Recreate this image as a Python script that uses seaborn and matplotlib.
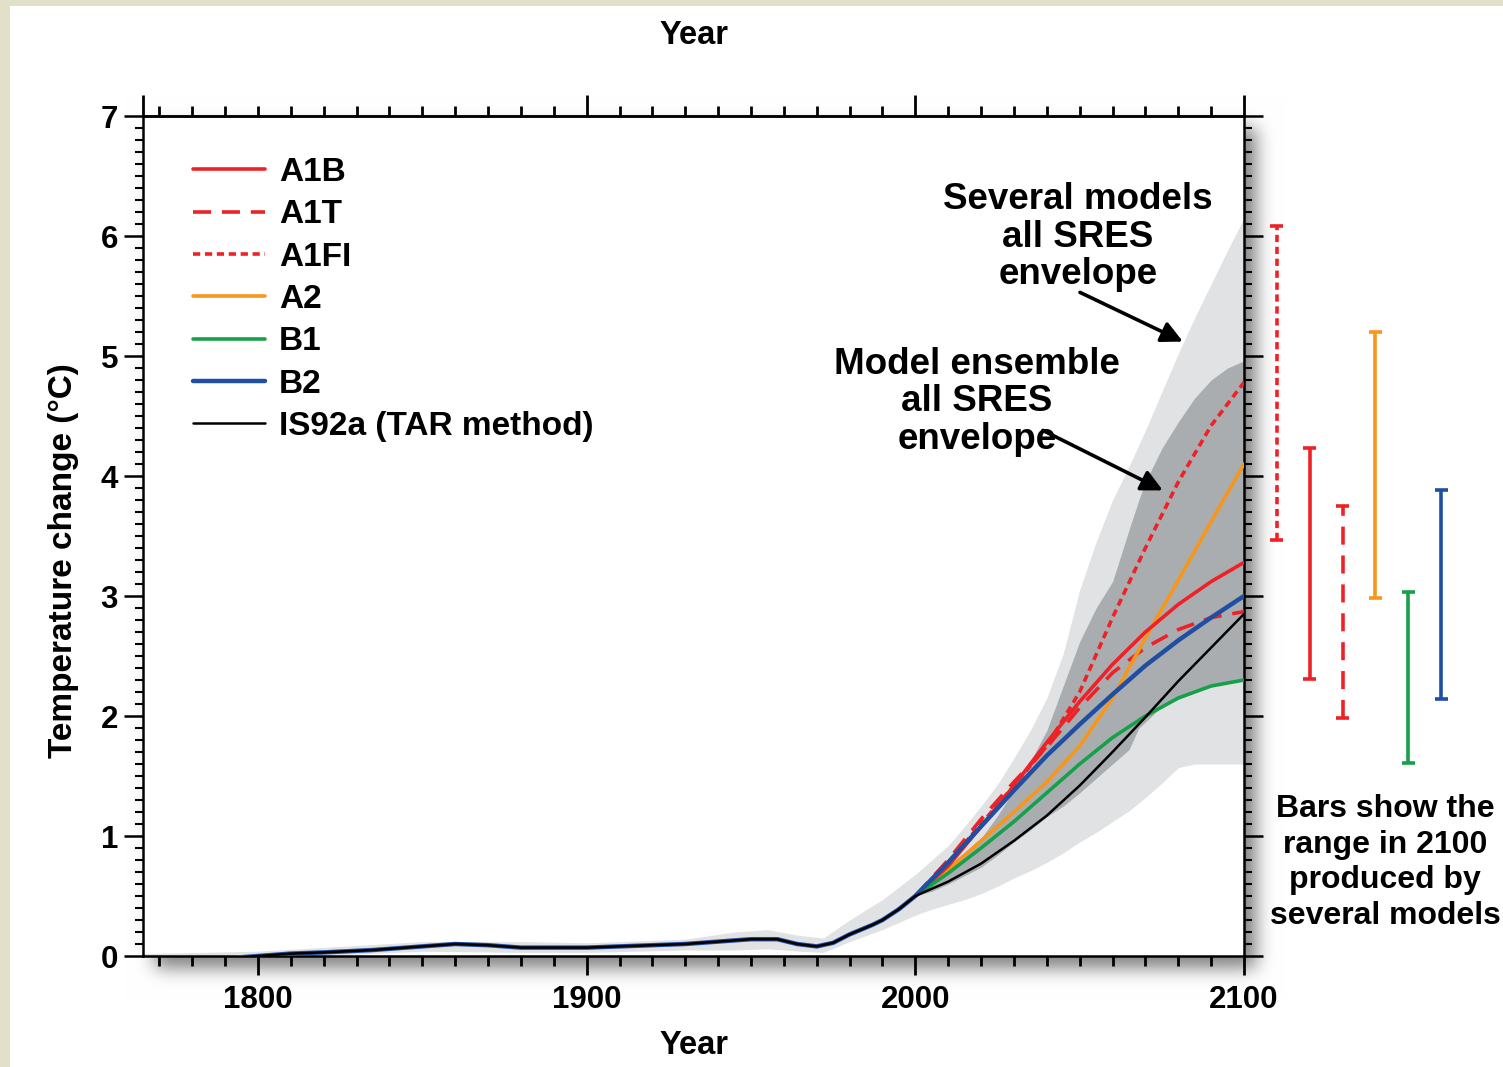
import numpy as np
import pandas as pd
import matplotlib
matplotlib.use("Agg")
import matplotlib.pyplot as plt
import seaborn as sns
from matplotlib.ticker import MultipleLocator, FixedLocator, NullFormatter

# ---- data ----
hist_years = [1765, 1790, 1800, 1810, 1820, 1835, 1850, 1860, 1870, 1880, 1890, 1900,
              1910, 1920, 1930, 1940, 1950, 1958, 1964, 1970, 1975, 1980, 1987, 1990,
              1995, 2000]
hist_temp = [-0.02, -0.02, 0.0, 0.02, 0.03, 0.05, 0.08, 0.10, 0.09, 0.07, 0.07, 0.07,
             0.08, 0.09, 0.10, 0.12, 0.14, 0.14, 0.10, 0.08, 0.11, 0.18, 0.26, 0.30,
             0.39, 0.50]

proj_years = [2000, 2010, 2020, 2030, 2040, 2050, 2060, 2070, 2080, 2090, 2100]
a1b = [0.5, 0.75, 1.08, 1.42, 1.78, 2.12, 2.43, 2.70, 2.93, 3.12, 3.28]
a1t = [0.5, 0.80, 1.14, 1.45, 1.74, 2.07, 2.36, 2.57, 2.72, 2.82, 2.87]
a1fi = [0.5, 0.78, 1.10, 1.42, 1.75, 2.20, 2.82, 3.40, 3.95, 4.42, 4.78]
a2 = [0.5, 0.72, 0.96, 1.20, 1.45, 1.75, 2.15, 2.65, 3.13, 3.62, 4.10]
b1 = [0.5, 0.69, 0.90, 1.12, 1.36, 1.60, 1.82, 2.00, 2.15, 2.25, 2.30]
b2 = [0.5, 0.78, 1.08, 1.38, 1.67, 1.93, 2.18, 2.42, 2.63, 2.82, 3.00]
is92a = [0.5, 0.62, 0.77, 0.96, 1.17, 1.42, 1.70, 1.99, 2.29, 2.57, 2.85]

# "several models" envelope (light grey)
env_years = [1765, 1800, 1850, 1880, 1900, 1930, 1945, 1955, 1965, 1972, 1980, 1990,
             2000, 2005, 2010, 2015, 2020, 2025, 2030, 2035, 2040, 2045, 2050, 2055,
             2060, 2065, 2070, 2075, 2080, 2085, 2090, 2095, 2100]
outer_high = [0.02, 0.04, 0.12, 0.12, 0.11, 0.14, 0.20, 0.22, 0.17, 0.15, 0.30, 0.47,
              0.68, 0.80, 0.92, 1.08, 1.25, 1.43, 1.65, 1.88, 2.15, 2.52, 3.05, 3.45,
              3.80, 4.08, 4.38, 4.70, 5.02, 5.32, 5.60, 5.88, 6.15]
outer_low = [-0.02, -0.02, 0.04, 0.03, 0.03, 0.05, 0.05, 0.06, 0.04, 0.03, 0.12, 0.22,
             0.34, 0.39, 0.43, 0.47, 0.52, 0.58, 0.65, 0.71, 0.78, 0.86, 0.95, 1.03,
             1.12, 1.21, 1.32, 1.44, 1.57, 1.60, 1.60, 1.60, 1.60]

# model-ensemble envelope (dark grey)
inner_years = [2000, 2005, 2010, 2015, 2020, 2025, 2030, 2035, 2040, 2045, 2050, 2055,
               2060, 2065, 2068, 2070, 2075, 2080, 2085, 2090, 2095, 2100]
inner_high = [0.50, 0.62, 0.75, 0.86, 0.98, 1.17, 1.38, 1.62, 1.88, 2.25, 2.62, 2.90,
              3.12, 3.55, 3.80, 3.95, 4.23, 4.45, 4.65, 4.80, 4.90, 4.96]
inner_low = [0.50, 0.54, 0.60, 0.67, 0.74, 0.84, 0.95, 1.05, 1.16, 1.25, 1.36, 1.48,
             1.60, 1.72, 1.90, 1.95, 2.08, 2.14, 2.20, 2.25, 2.28, 2.30]

bar_names = ["A1FI", "A1B", "A1T", "A2", "B1", "B2"]
bar_x = [2110, 2120, 2130, 2140, 2150, 2160]
bar_low = [3.47, 2.31, 1.98, 2.98, 1.61, 2.14]
bar_high = [6.08, 4.23, 3.75, 5.20, 3.03, 3.88]

RED, ORANGE, GREEN, BLUE = "#ee2226", "#f7961c", "#17a04a", "#1f4ea3"
DOT = (0, (2, 1.3))
DASH = (0, (5, 3))

sns.set_theme(style="ticks")
plt.rcParams["font.family"] = ["Liberation Sans", "DejaVu Sans"]
plt.rcParams["font.weight"] = "bold"
plt.rcParams["axes.labelweight"] = "bold"
for key in ["text.color", "axes.labelcolor", "xtick.color", "ytick.color", "axes.edgecolor"]:
    plt.rcParams[key] = "black"

W, H = 1503, 1067
fig = plt.figure(figsize=(W / 100, H / 100), dpi=100, facecolor="white")

# background: beige frame + soft drop shadow behind the plot box
x0, x1, y0, y1 = 143, 1244, 116, 956
mask = np.zeros((H, W))
off = 12
mask[y0 + off:y1 + off, x0 + off:x1 + off] = 1.0
k = np.exp(-0.5 * (np.arange(-30, 31) / 9.0) ** 2)
k /= k.sum()
mask = np.apply_along_axis(lambda r: np.convolve(r, k, mode="same"), 1, mask)
mask = np.apply_along_axis(lambda c: np.convolve(c, k, mode="same"), 0, mask)
bg = np.ones((H, W, 3)) * (1 - 0.5 * mask)[..., None]
beige = np.array([226, 224, 200]) / 255
bg[:6, :] = beige
bg[:, :10] = beige
fig.figimage(bg, xo=0, yo=0, origin="upper", zorder=-10)

ax = fig.add_axes([x0 / W, 1 - y1 / H, (x1 - x0) / W, (y1 - y0) / H])
ax.set_facecolor("white")

ax.fill_between(env_years, outer_low, outer_high, color="#e0e2e3", lw=0, zorder=1)
ax.fill_between(inner_years, inner_low, inner_high, color="#a9adb0", lw=0, zorder=2)

full_years = hist_years[:-1] + proj_years
lw = 2.6
sns.lineplot(x=proj_years, y=a1t, ax=ax, color=RED, linestyle=DASH, lw=lw, label="A1T", zorder=3)
sns.lineplot(x=proj_years, y=a1fi, ax=ax, color=RED, linestyle=DOT, lw=lw, label="A1FI", zorder=3)
sns.lineplot(x=proj_years, y=a2, ax=ax, color=ORANGE, lw=lw, label="A2", zorder=3)
sns.lineplot(x=proj_years, y=a1b, ax=ax, color=RED, lw=lw, label="A1B", zorder=3)
sns.lineplot(x=proj_years, y=b1, ax=ax, color=GREEN, lw=lw, label="B1", zorder=3)
sns.lineplot(x=full_years, y=hist_temp[:-1] + b2, ax=ax, color=BLUE, lw=lw + 0.6, label="B2", zorder=4)
sns.lineplot(x=full_years, y=hist_temp[:-1] + is92a, ax=ax, color="black", lw=1.8,
             label="IS92a (TAR method)", zorder=5)

# range bars in 2100
bar_colors = [RED, RED, RED, ORANGE, GREEN, BLUE]
bar_styles = [DOT, "-", DASH, "-", "-", "-"]
for bx, lo, hi, c, s in zip(bar_x, bar_low, bar_high, bar_colors, bar_styles):
    ax.vlines(bx, lo, hi, colors=c, linestyles=[s], lw=2.6, clip_on=False)
    ax.hlines([lo, hi], bx - 2.0, bx + 2.0, colors=c, lw=2.6, clip_on=False)

ax.set_xlim(1765, 2100)
ax.set_ylim(0, 7)

for side in ax.spines.values():
    side.set_linewidth(1.8)
    side.set_color("black")

ax.xaxis.set_major_locator(FixedLocator([1800, 1900, 2000, 2100]))
ax.xaxis.set_minor_locator(MultipleLocator(10))
ax.yaxis.set_major_locator(MultipleLocator(1))
ax.yaxis.set_minor_locator(MultipleLocator(0.1))
ax.tick_params(axis="x", which="major", direction="out", length=14, width=2,
               labelsize=22.5, pad=7)
ax.tick_params(axis="x", which="minor", direction="out", length=7, width=2)
ax.tick_params(axis="y", which="major", direction="out", length=14, width=1.8,
               labelsize=22.5, pad=4, right=True, left=True, labelright=False)
ax.tick_params(axis="y", which="minor", direction="out", length=5.5, width=1.5,
               right=True, left=True)

top = ax.secondary_xaxis("top")
top.xaxis.set_major_locator(FixedLocator([1765, 1900, 2000, 2100]))
top.xaxis.set_minor_locator(MultipleLocator(10))
top.xaxis.set_major_formatter(NullFormatter())
top.tick_params(axis="x", which="major", direction="out", length=15, width=2)
top.tick_params(axis="x", which="minor", direction="out", length=7, width=2)
top.spines["top"].set_linewidth(1.8)
top.set_xlabel("Year", fontsize=23.5, fontweight="bold", labelpad=33)

ax.set_xlabel("Year", fontsize=23.5, fontweight="bold", labelpad=11)
ax.set_ylabel("Temperature change (°C)", fontsize=24, fontweight="bold")
ax.yaxis.set_label_coords(-0.058, 0.471)

handles, labels = ax.get_legend_handles_labels()
order = ["A1B", "A1T", "A1FI", "A2", "B1", "B2", "IS92a (TAR method)"]
hmap = dict(zip(labels, handles))
ax.legend([hmap[o] for o in order], order, loc="upper left",
          bbox_to_anchor=(0.0456, 0.951), frameon=False, fontsize=24,
          handlelength=2.16, handletextpad=0.42, labelspacing=0.34,
          borderpad=0, borderaxespad=0)

txt = dict(ha="center", va="center", fontsize=26.5, fontweight="bold",
           linespacing=1.09)
ax.text(2049.5, 5.99, "Several models\nall SRES\nenvelope", **txt)
ax.text(2018.7, 4.62, "Model ensemble\nall SRES\nenvelope", **txt)
ax.text(2142.9, 0.78, "Bars show the\nrange in 2100\nproduced by\nseveral models",
        ha="center", va="center", fontsize=23, fontweight="bold",
        linespacing=1.25, clip_on=False)

arrow = dict(arrowstyle="-|>", lw=2.6, color="black", mutation_scale=32,
             shrinkA=0, shrinkB=0)
ax.annotate("", xy=(2081.4, 5.12), xytext=(2050.1, 5.53), arrowprops=arrow)
ax.annotate("", xy=(2075.3, 3.88), xytext=(2038.8, 4.38), arrowprops=arrow)

fig.savefig("out.png", dpi=100, facecolor=fig.get_facecolor())
